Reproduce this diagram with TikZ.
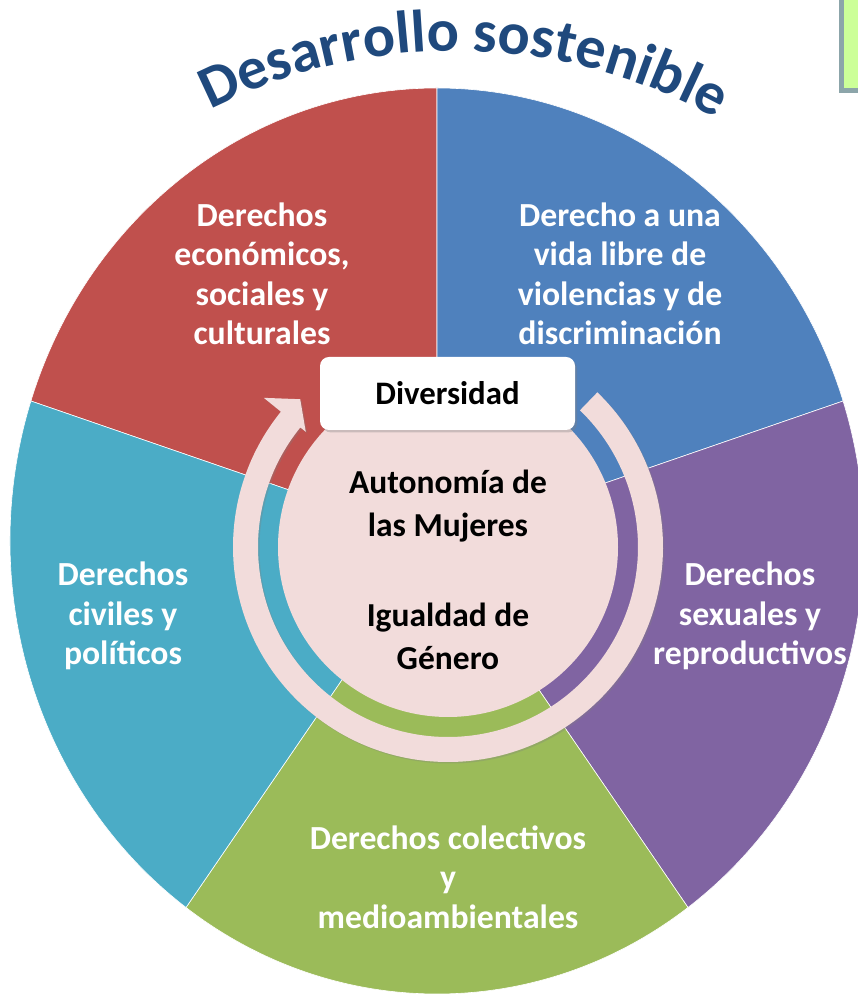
\documentclass[tikz,border=0pt]{standalone}
\usepackage{fontspec}
\setmainfont{Carlito}
\usetikzlibrary{positioning,calc,shadows,decorations.text}

\definecolor{segred}{HTML}{C0504D}
\definecolor{segblue}{HTML}{4F81BD}
\definecolor{segpurple}{HTML}{8064A2}
\definecolor{seggreen}{HTML}{9BBB59}
\definecolor{segcyan}{HTML}{4BACC6}
\definecolor{corepink}{HTML}{F2DCDB}
\definecolor{titleblue}{HTML}{1F497D}
\definecolor{boxgreen}{HTML}{CCFF99}
\definecolor{boxgray}{HTML}{8CA5AA}

\newcommand{\titlefont}{\bfseries\fontsize{60}{72}\selectfont}

\begin{document}
\begin{tikzpicture}[
x=1pt, y=1pt,
seg/.style = {draw=white, line width=0.6pt},
seg-label/.style = {text=white, font=\bfseries\fontsize{33.7}{39.5}\selectfont, align=center},
core-label/.style = {text=black, font=\bfseries\fontsize{33.5}{43}\selectfont, align=center},
div-box/.style = {rectangle, rounded corners=9pt, fill=white, minimum width=255pt, minimum height=73pt,
  drop shadow={shadow xshift=2pt, shadow yshift=-2.5pt, opacity=0.35},
  font=\bfseries\fontsize{32.8}{40}\selectfont, text=black}
]

\useasboundingbox (0,0) rectangle (858,994);

\coordinate (pc) at (437,453);
\coordinate (ic) at (448,447);
\coordinate (tc) at (455,402);

% pie
\foreach \a/\b/\c in {90/162/segred, 18/90/segblue, -54/18/segpurple, -126/-54/seggreen, 162/234/segcyan}
  \path[seg, fill=\c] (pc) -- ++(\a:427 and 453) arc[start angle=\a, end angle=\b, x radius=427, y radius=453] -- cycle;

% circular arrow
\path[fill=corepink, drop shadow={shadow xshift=1.5pt, shadow yshift=-1.5pt, opacity=0.3}]
  ($(ic)+(46:215)$) arc[start angle=46, end angle=-219, radius=215]
  -- ($(ic)+(141:237)$) -- ($(ic)+(135:209)$) -- ($(ic)+(141:183)$)
  -- ($(ic)+(141:190)$) arc[start angle=141, end angle=406, radius=190] -- cycle;

% core
\node [circle, fill=corepink, minimum size=340pt, inner sep=0pt] (core) at (ic) {};
\node [core-label] (autonomia) at (448,488) {Autonomía de\\las Mujeres};
\node [core-label] (igualdad) at (448,358) {Igualdad de\\Género};
\node [div-box] (diversidad) at (447.5,600.5) {Diversidad};

% labels
\node [seg-label] (ecosoc) at (262,720) {Derechos\\económicos,\\sociales y\\culturales};
\node [seg-label] (vida) at (620,720) {Derecho a una\\vida libre de\\violencias y de\\discriminación};
\node [seg-label] (sexrep) at (750,378) {Derechos\\sexuales y\\reproductivos};
\node [seg-label] (civpol) at (123,378) {Derechos\\civiles y\\políticos};
\node [seg-label] (colect) at (448,117) {Derechos colectivos\\y\\medioambientales};

% title
\path [decorate, decoration={text along path, text={|\titlefont|Desarrollo sostenible}, text align=center, text color=titleblue}]
  ($(tc)+(120:541)$) arc[start angle=120, end angle=58, radius=541];

% corner box
\draw [line width=5pt, draw=boxgray, fill=boxgreen] (841.5,903.5) rectangle (880,1010);

\end{tikzpicture}
\end{document}
